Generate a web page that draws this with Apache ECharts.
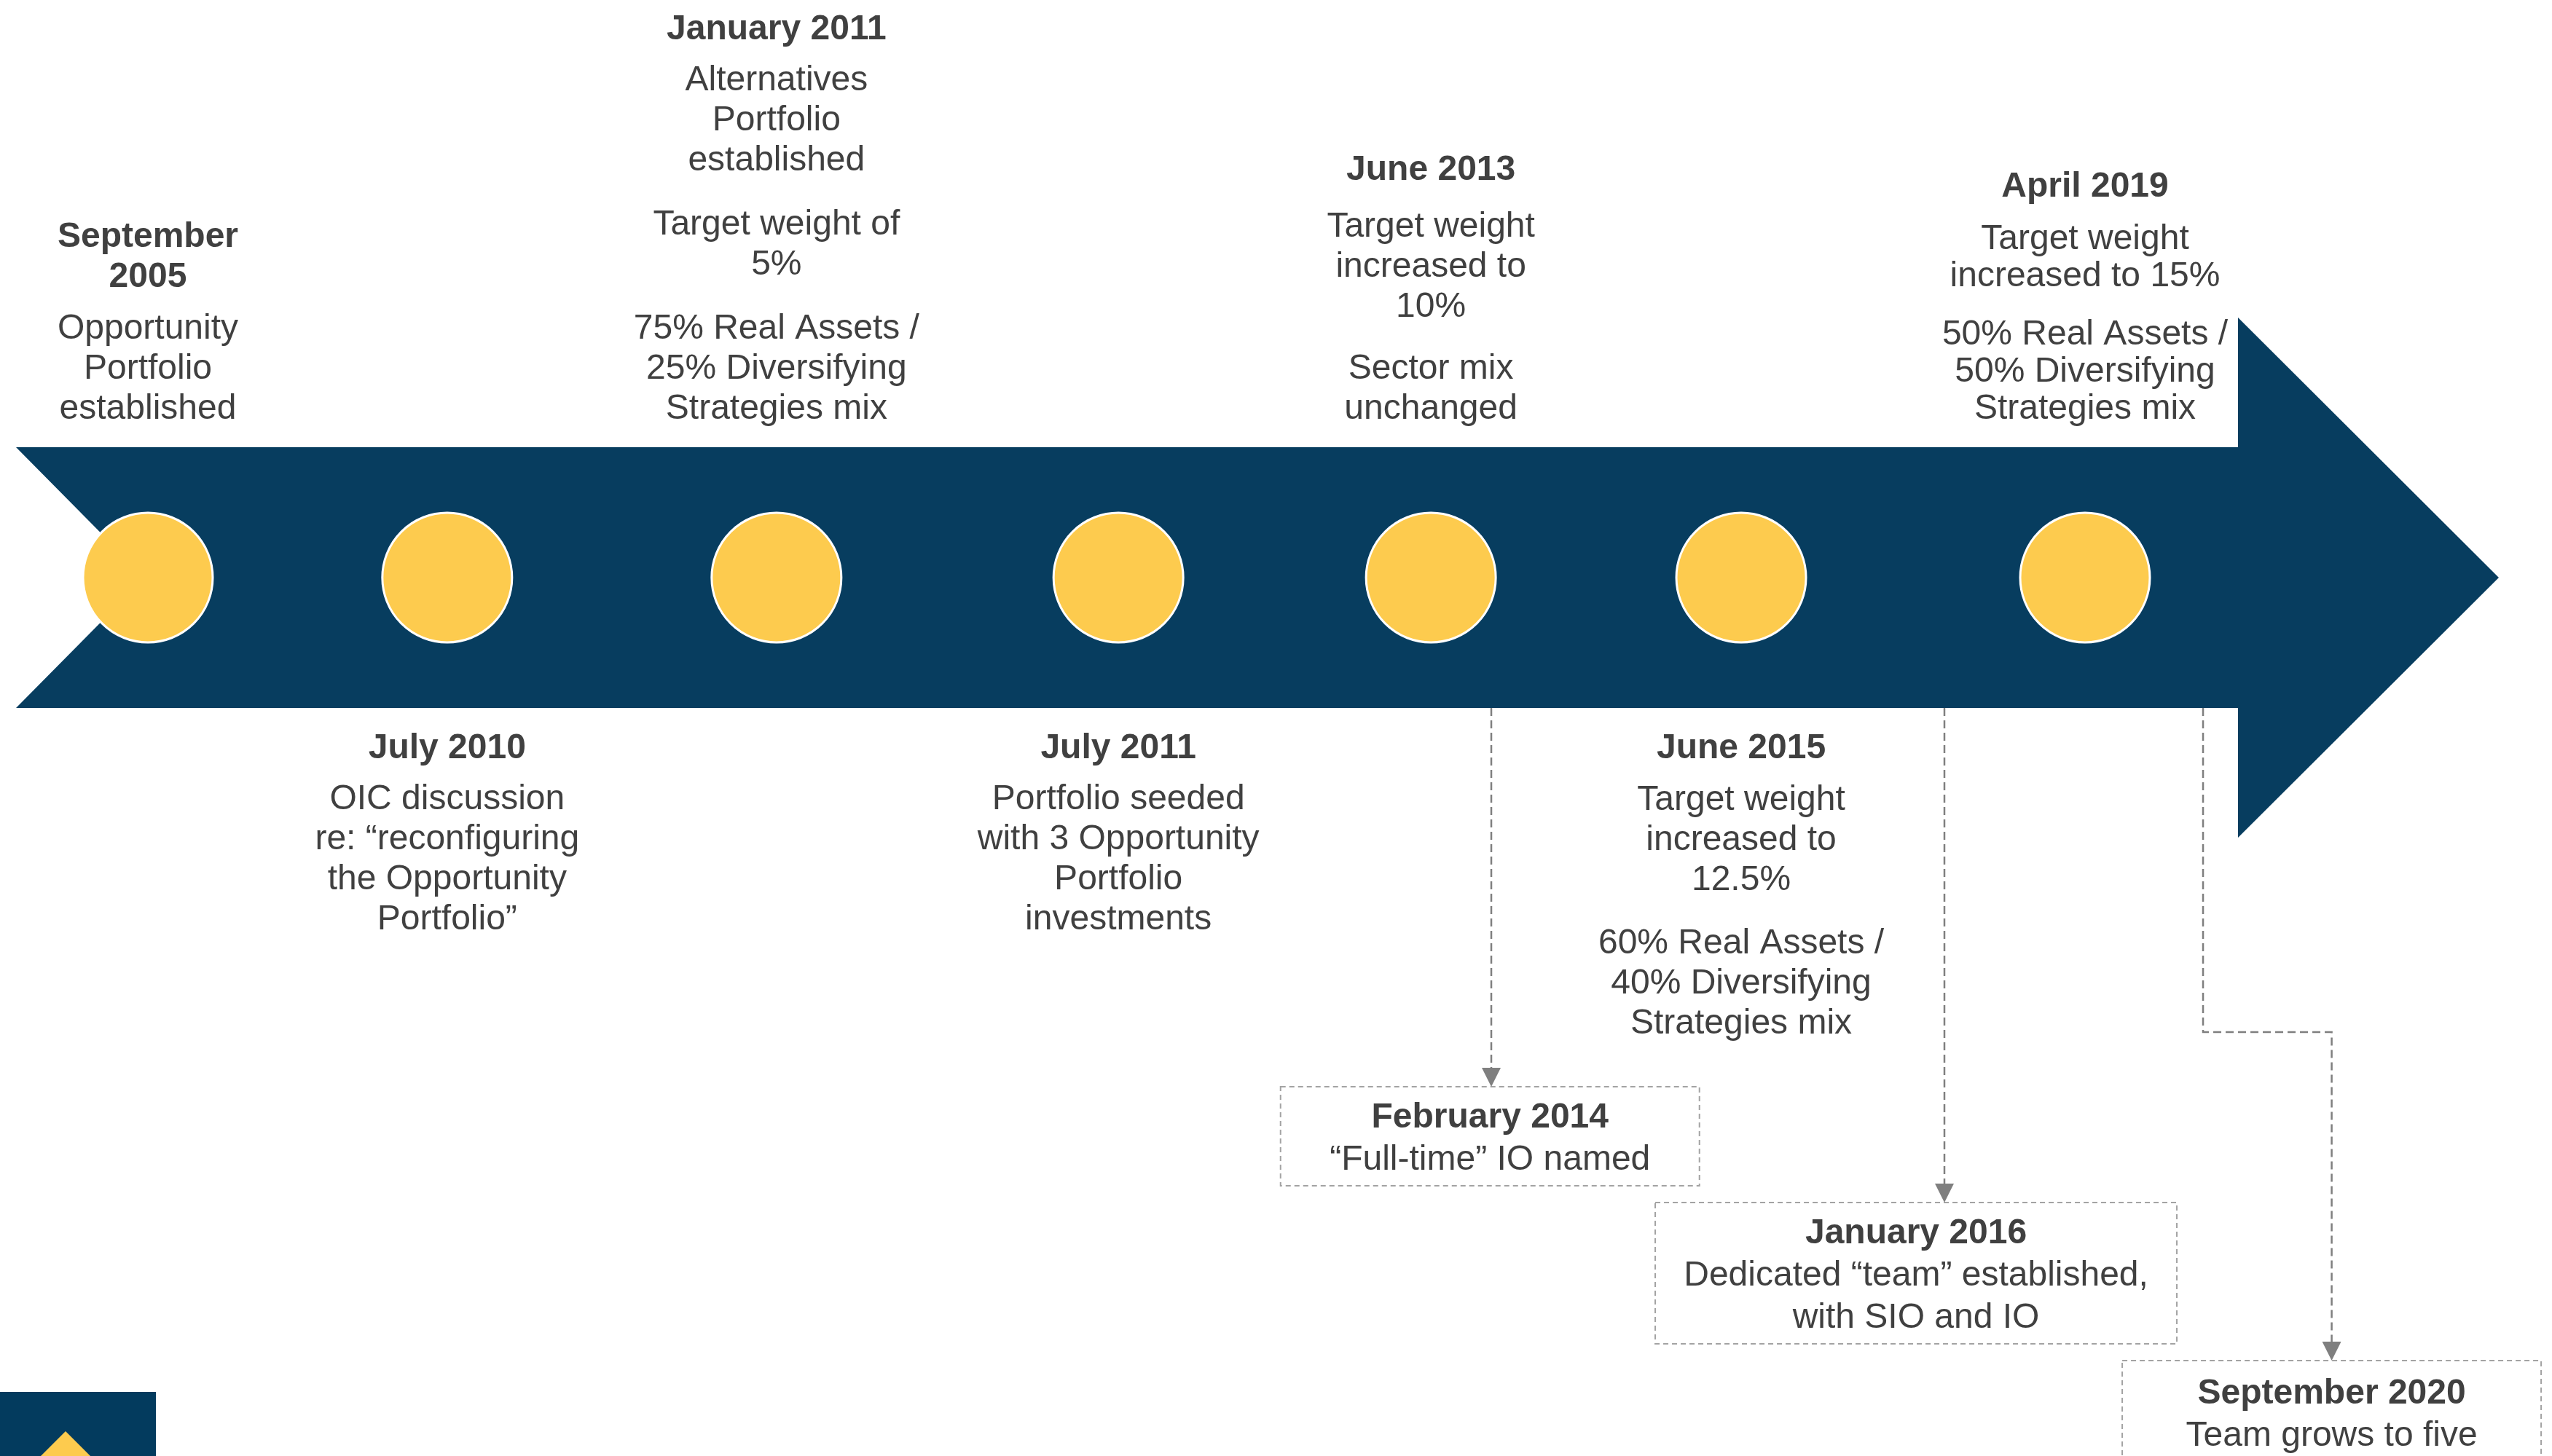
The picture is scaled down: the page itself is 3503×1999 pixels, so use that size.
<!DOCTYPE html>
<html><head><meta charset="utf-8">
<script src="https://cdn.jsdelivr.net/npm/echarts@6/dist/echarts.min.js"></script>
<style>html,body{margin:0;padding:0;background:#fff;overflow:hidden}#c{width:3503px;height:1999px}</style>
</head><body><div id="c"></div>
<script>
// ---------------- data ----------------
const eventDates = ['September 2005', 'July 2010', 'January 2011', 'July 2011', 'June 2013', 'June 2015', 'April 2019'];
// position of each milestone along the timeline axis (0 = first, 6 = last)
const eventSlot = [0, 0.927, 1.947, 3.006, 3.974, 4.935, 6];
const eventTitleLines = [['September', '2005'], ['July 2010'], ['January 2011'], ['July 2011'], ['June 2013'], ['June 2015'], ['April 2019']];
const eventParagraphs = [
  [['Opportunity', 'Portfolio', 'established']],
  [['OIC discussion', 're: \u201creconfiguring', 'the Opportunity', 'Portfolio\u201d']],
  [['Alternatives', 'Portfolio', 'established'], ['Target weight of', '5%'], ['75% Real Assets /', '25% Diversifying', 'Strategies mix']],
  [['Portfolio seeded', 'with 3 Opportunity', 'Portfolio', 'investments']],
  [['Target weight', 'increased to', '10%'], ['Sector mix', 'unchanged']],
  [['Target weight', 'increased to', '12.5%'], ['60% Real Assets /', '40% Diversifying', 'Strategies mix']],
  [['Target weight', 'increased to 15%'], ['50% Real Assets /', '50% Diversifying', 'Strategies mix']]
];
const teamDates = ['February 2014', 'January 2016', 'September 2020'];
const teamLines = [['\u201cFull-time\u201d IO named'], ['Dedicated \u201cteam\u201d established,', 'with SIO and IO'], ['Team grows to five']];

// ---------------- layout / style ----------------
const FONT = '"Liberation Sans", Arial, Helvetica, sans-serif';
const TEXT = '#404040';
const NAVY = '#073D5F';
const GOLD = '#FDCB4E';
const FS = 48;
const R = 89;                 // circle radius (px)
const eventSide = ['top', 'bottom', 'top', 'bottom', 'top', 'bottom', 'top'];
const spacing = [
  { lh: 55, gt: 16, gp: 33 }, { lh: 55, gt: 15, gp: 33 }, { lh: 55, gt: 15, gp: 33 },
  { lh: 55, gt: 15, gp: 33 }, { lh: 55, gt: 23, gp: 30 }, { lh: 55, gt: 16, gp: 32 },
  { lh: 51, gt: 21, gp: 29 }
];
const GRID = { left: 203, right: 641, top: 614, height: 358 };
const CENTER_Y = GRID.top + GRID.height / 2;
const TOP_LAST = 563, BOTTOM_FIRST = 1026;
// annotation anchors: x in axis units, y in px
const teamLayout = [
  { lineX: 4.161, boxX: 4.157, w: 575, top: 1492, h: 136, textY: 1564 },
  { lineX: 5.5645, boxX: 5.4766, w: 716, top: 1651, h: 194, textY: 1752 },
  { lineX: 6.3656, boxX: 6.764, w: 575, top: 1868, h: 150, textY: 1943, elbowY: 1417 }
];

function eventLabel(i) {
  const sp = spacing[i];
  const parts = [];
  eventTitleLines[i].forEach(t => parts.push('{b|' + t + '}'));
  eventParagraphs[i].forEach((p, pi) => {
    parts.push(pi === 0 ? '{g1| }' : '{g2| }');
    p.forEach(l => parts.push('{r|' + l + '}'));
  });
  const side = eventSide[i];
  const dist = side === 'top'
    ? (CENTER_Y - R) - (TOP_LAST + sp.lh / 2)
    : (BOTTOM_FIRST - sp.lh / 2) - (CENTER_Y + R);
  return {
    show: true,
    position: side,
    distance: dist,
    align: 'center',
    formatter: parts.join('\n'),
    rich: {
      b: { fontFamily: FONT, fontSize: FS, fontWeight: 'bold', color: TEXT, lineHeight: sp.lh, align: 'center' },
      r: { fontFamily: FONT, fontSize: FS, color: TEXT, lineHeight: sp.lh, align: 'center' },
      g1: { fontSize: 2, lineHeight: sp.gt },
      g2: { fontSize: 2, lineHeight: sp.gp }
    }
  };
}

const chart = echarts.init(document.getElementById('c'), null, { renderer: 'canvas' });

const option = {
  animation: false,
  backgroundColor: '#ffffff',
  grid: { left: GRID.left, right: GRID.right, top: GRID.top, height: GRID.height },
  xAxis: { type: 'value', min: 0, max: 6, show: false },
  yAxis: { type: 'value', min: 0, max: 1, show: false },
  series: [
    {
      type: 'custom',
      name: 'arrow',
      coordinateSystem: 'cartesian2d',
      silent: true,
      clip: false,
      z: 1,
      data: [[0, 0.5]],
      renderItem: function (params, api) {
        const cs = params.coordSys;
        const top = cs.y, bot = cs.y + cs.height, mid = cs.y + cs.height / 2;
        const right = cs.x + cs.width;
        const pts = [
          [cs.x - 181, top], [right + 210, top], [right + 210, mid - 357],
          [right + 568, mid], [right + 210, mid + 357], [right + 210, bot],
          [cs.x - 181, bot], [cs.x - 4, mid]
        ];
        return { type: 'polygon', shape: { points: pts }, style: { fill: NAVY } };
      }
    },
    {
      type: 'custom',
      name: 'team',
      coordinateSystem: 'cartesian2d',
      silent: true,
      clip: false,
      z: 2,
      data: teamDates.map((d, i) => ({ name: d, value: [teamLayout[i].lineX, 0] })),
      renderItem: function (params, api) {
        const i = params.dataIndex;
        const L = teamLayout[i];
        const cs = params.coordSys;
        const bandBottom = cs.y + cs.height;
        const lx = api.coord([L.lineX, 0])[0];
        const bx = api.coord([L.boxX, 0])[0];
        const ah = 26;
        let pts, ax;
        if (L.elbowY) {
          pts = [[lx, bandBottom], [lx, L.elbowY], [bx, L.elbowY], [bx, L.top - ah + 2]];
          ax = bx;
        } else {
          pts = [[lx, bandBottom], [lx, L.top - ah + 2]];
          ax = lx;
        }
        const txt = ['{b|' + teamDates[i] + '}'].concat(teamLines[i].map(l => '{r|' + l + '}')).join('\n');
        return {
          type: 'group',
          children: [
            { type: 'rect', shape: { x: bx - L.w / 2, y: L.top, width: L.w, height: L.h },
              style: { fill: '#ffffff', stroke: '#A3A3A3', lineWidth: 2, lineDash: [7, 5] } },
            { type: 'polyline', shape: { points: pts },
              style: { fill: null, stroke: '#7F7F7F', lineWidth: 2.5, lineDash: [11, 6] } },
            { type: 'polygon', shape: { points: [[ax - 13, L.top - ah], [ax + 13, L.top - ah], [ax, L.top]] },
              style: { fill: '#7F7F7F' } },
            { type: 'text', x: bx, y: L.textY,
              style: {
                text: txt, align: 'center', verticalAlign: 'middle', fill: TEXT,
                rich: {
                  b: { fontFamily: FONT, fontSize: FS, fontWeight: 'bold', fill: TEXT, lineHeight: 58, align: 'center' },
                  r: { fontFamily: FONT, fontSize: FS, fill: TEXT, lineHeight: 58, align: 'center' }
                }
              } }
          ]
        };
      }
    },
    {
      type: 'scatter',
      name: 'milestones',
      z: 5,
      symbol: 'circle',
      symbolSize: R * 2,
      silent: true,
      itemStyle: { color: GOLD, borderColor: '#ffffff', borderWidth: 3, opacity: 1 },
      emphasis: { disabled: true },
      data: eventDates.map((d, i) => ({ name: d, value: [eventSlot[i], 0.5], label: eventLabel(i) }))
    }
  ],
  graphic: [
    { type: 'rect', left: 0, top: 1911, shape: { width: 214, height: 88 }, style: { fill: '#033B5E' }, z: 10 },
    { type: 'polygon', shape: { points: [[90, 1965], [124, 1999], [56, 1999]] }, style: { fill: GOLD }, z: 11 }
  ]
};
chart.setOption(option);
</script>
</body></html>
